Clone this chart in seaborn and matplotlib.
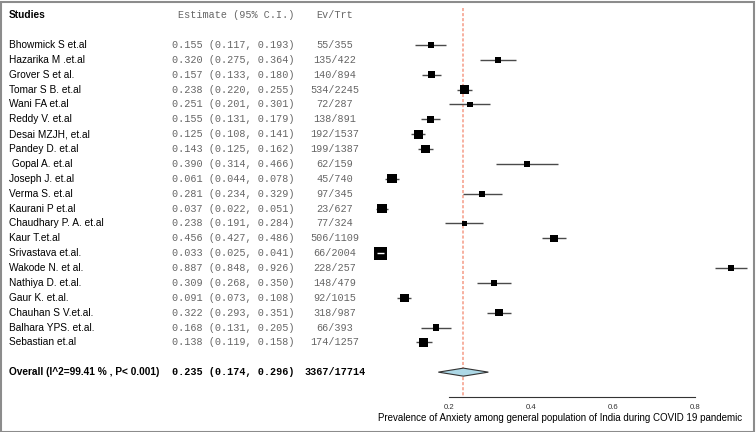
import matplotlib
matplotlib.use("Agg")
import matplotlib.pyplot as plt
import matplotlib.transforms as mtransforms
from matplotlib.patches import Rectangle
import seaborn as sns
import pandas as pd
import numpy as np

# ---------------- data ----------------
studies = ["Bhowmick S et.al", "Hazarika M .et.al", "Grover S et al.", "Tomar S B. et.al",
           "Wani FA et.al", "Reddy V. et.al", "Desai MZJH, et.al", "Pandey D. et.al",
           " Gopal A. et.al", "Joseph J. et.al", "Verma S. et.al", "Kaurani P et.al",
           "Chaudhary P. A. et.al", "Kaur T.et.al", "Srivastava et.al.", "Wakode N. et al.",
           "Nathiya D. et.al.", "Gaur K. et.al.", "Chauhan S V.et.al.", "Balhara YPS. et.al.",
           "Sebastian et.al"]
estimate = [0.155, 0.320, 0.157, 0.238, 0.251, 0.155, 0.125, 0.143, 0.390, 0.061, 0.281,
            0.037, 0.238, 0.456, 0.033, 0.887, 0.309, 0.091, 0.322, 0.168, 0.138]
ci_low = [0.117, 0.275, 0.133, 0.220, 0.201, 0.131, 0.108, 0.125, 0.314, 0.044, 0.234,
          0.022, 0.191, 0.427, 0.025, 0.848, 0.268, 0.073, 0.293, 0.131, 0.119]
ci_high = [0.193, 0.364, 0.180, 0.255, 0.301, 0.179, 0.141, 0.162, 0.466, 0.078, 0.329,
           0.051, 0.284, 0.486, 0.041, 0.926, 0.350, 0.108, 0.351, 0.205, 0.158]
ev_trt = ["55/355", "135/422", "140/894", "534/2245", "72/287", "138/891", "192/1537",
          "199/1387", "62/159", "45/740", "97/345", "23/627", "77/324", "506/1109",
          "66/2004", "228/257", "148/479", "92/1015", "318/987", "66/393", "174/1257"]
# relative study weight (as shown by box size)
weight = [5.7, 5.7, 7.0, 8.7, 5.0, 7.0, 8.7, 8.0, 5.0, 8.7, 5.5, 9.0, 5.0, 6.8, 12.0,
          5.7, 5.5, 8.0, 6.7, 5.7, 8.0]

overall_label = "Overall (I^2=99.41 % , P< 0.001)"
overall_est, overall_lo, overall_hi = 0.235, 0.174, 0.296
overall_evtrt = "3367/17714"

x_ticks = [0.2, 0.4, 0.6, 0.8]
x_label = "Prevalence of Anxiety among general population of India during COVID 19 pandemic"

# ---------------- style ----------------
sns.set_style("white")
plt.rcParams["font.family"] = ["Liberation Sans", "DejaVu Sans"]
MONO = ["Liberation Mono", "DejaVu Sans Mono"]

W, H = 756, 432
row0_px, row_px = 45.0, 14.87
x0_px, unit_px = 367.0, 410.0
xmax = 0.94

fig = plt.figure(figsize=(W / 100, H / 100), dpi=100)
ax = fig.add_axes([x0_px / W, 0, xmax * unit_px / W, 1])
ax.set_xlim(0, xmax)
ax.set_ylim((H - row0_px) / row_px, -row0_px / row_px)

n = len(studies)
df = pd.DataFrame({"study": studies, "est": estimate, "lo": ci_low, "hi": ci_high,
                   "evtrt": ev_trt, "w": weight})
df["row"] = np.arange(n)
box_scale = 1.07  # px of box side per weight unit
df["area"] = (df["w"] * box_scale * 0.72) ** 2
overall_row = n + 1
header_row = -2
axis_row = overall_row + 1.7

# CI lines
ax.hlines(df["row"], df["lo"], df["hi"], color="#4a4a4a", lw=1.0, zorder=2)

# boxes
amin, amax = df["area"].min(), df["area"].max()
sns.scatterplot(data=df, x="est", y="row", size="area", sizes=(amin, amax),
                size_norm=(amin, amax), marker="s", color="black", edgecolor="black",
                linewidth=0, legend=False, ax=ax, zorder=3)

# CI lines entirely inside box drawn in white
inside = (df["hi"] - df["lo"]) * unit_px < df["w"] * box_scale
ax.hlines(df.loc[inside, "row"], df.loc[inside, "lo"], df.loc[inside, "hi"],
          color="white", lw=1.0, zorder=4)

# summary diamond
h = 0.27
ax.fill([overall_lo, overall_est, overall_hi, overall_est],
        [overall_row, overall_row - h, overall_row, overall_row + h],
        facecolor="#ADD8E6", edgecolor="#333333", lw=0.8, zorder=3)

# reference line at pooled estimate
ax.vlines(overall_est, header_row - 0.5, axis_row, colors="#F7B0A0",
          linestyles=(0, (1.6, 1.0)), lw=1.4, zorder=1)

# axis
for s in ["top", "left", "right"]:
    ax.spines[s].set_visible(False)
ax.spines["bottom"].set_position(("data", axis_row))
ax.spines["bottom"].set_bounds(x_ticks[0], x_ticks[-1])
ax.spines["bottom"].set_color("#333333")
ax.spines["bottom"].set_linewidth(0.8)
ax.set_xticks(x_ticks)
ax.set_xticklabels([f"{t:.1f}" for t in x_ticks])
ax.tick_params(axis="x", direction="in", length=3.5, width=0.8, color="#333333",
               labelsize=5.6, labelcolor="#333333", pad=4.5)
ax.set_yticks([])
ax.set_ylabel("")
ax.set_xlabel(x_label, fontsize=7.0, color="black", labelpad=2)

# text columns
tr = mtransforms.blended_transform_factory(fig.transFigure, ax.transData)
x_name, x_est, x_ev = 9 / W, 172 / W, 335 / W
gray = "#666666"
fs = 7.3

ax.text(x_name, header_row, "Studies", transform=tr, ha="left", va="center",
        fontsize=fs, fontweight="bold", color="black")
ax.text(x_est + 6 / W, header_row, "Estimate (95% C.I.)", transform=tr, ha="left",
        va="center", fontsize=fs, family=MONO, color=gray)
ax.text(x_ev, header_row, "Ev/Trt", transform=tr, ha="center", va="center",
        fontsize=fs, family=MONO, color=gray)

for _, r in df.iterrows():
    ax.text(x_name, r["row"], r["study"], transform=tr, ha="left", va="center",
            fontsize=fs, color="black")
    ax.text(x_est, r["row"], f"{r['est']:.3f} ({r['lo']:.3f}, {r['hi']:.3f})",
            transform=tr, ha="left", va="center", fontsize=fs, family=MONO, color=gray)
    ax.text(x_ev, r["row"], r["evtrt"], transform=tr, ha="center", va="center",
            fontsize=fs, family=MONO, color=gray)

ax.text(x_name, overall_row, overall_label, transform=tr, ha="left", va="center",
        fontsize=fs, fontweight="bold", color="black")
ax.text(x_est, overall_row, f"{overall_est:.3f} ({overall_lo:.3f}, {overall_hi:.3f})",
        transform=tr, ha="left", va="center", fontsize=fs, family=MONO,
        fontweight="bold", color="black")
ax.text(x_ev, overall_row, overall_evtrt, transform=tr, ha="center", va="center",
        fontsize=fs, family=MONO, fontweight="bold", color="black")

# figure border
fig.add_artist(Rectangle((0.5 / W, 0.5 / H), 1 - 2.5 / W, 1 - 2.5 / H,
                         transform=fig.transFigure, fill=False,
                         edgecolor="#8c8c8c", lw=1.5))

fig.savefig("out.png", dpi=100)
